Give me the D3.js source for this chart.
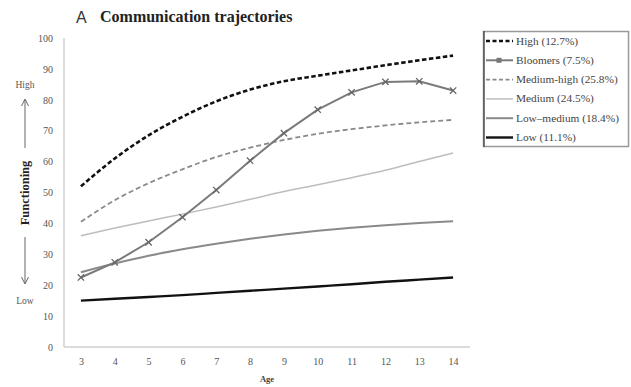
<!DOCTYPE html>
<html><head><meta charset="utf-8">
<script src="https://cdn.jsdelivr.net/npm/d3@7"></script>
<style>body{margin:0;background:#fff}svg{display:block}</style>
</head><body>
<svg id="c" width="631" height="387"></svg>
<script>
const ages = [3,4,5,6,7,8,9,10,11,12,13,14];
const yTicks = [0,10,20,30,40,50,60,70,80,90,100];
const high       = [52,61,68.5,74.5,79.5,83.3,86,87.8,89.5,91.2,92.8,94.3];
const bloomers   = [22.5,27.4,33.9,42,50.8,60.3,69.2,76.8,82.4,85.8,86,83];
const mediumHigh = [40.5,47.5,53,57.5,61.5,64.5,67,69,70.5,71.7,72.7,73.5];
const medium     = [36,38.5,40.8,43,45.3,47.8,50.3,52.5,54.8,57.2,60,62.8];
const lowMedium  = [24.2,27,29.5,31.6,33.4,35,36.4,37.6,38.6,39.4,40.1,40.7];
const low        = [15,15.6,16.2,16.8,17.5,18.2,18.9,19.6,20.3,21.1,21.8,22.5];
const seriesNames = ["High (12.7%)","Bloomers (7.5%)","Medium-high (25.8%)","Medium (24.5%)","Low\u2013medium (18.4%)","Low (11.1%)"];

const styles = [
  {color:"#111", w:2.6, dash:"4.5,2.5", marker:false, curve:d3.curveMonotoneX},
  {color:"#7a7a7a", w:2, dash:null, marker:true, curve:d3.curveLinear},
  {color:"#8a8a8a", w:1.8, dash:"5,3", marker:false, curve:d3.curveMonotoneX},
  {color:"#bdbdbd", w:1.5, dash:null, marker:false, curve:d3.curveMonotoneX},
  {color:"#8a8a8a", w:2, dash:null, marker:false, curve:d3.curveMonotoneX},
  {color:"#111", w:2.4, dash:null, marker:false, curve:d3.curveMonotoneX}
];
const data = [high,bloomers,mediumHigh,medium,lowMedium,low];

const svg = d3.select("#c");
const serif = "'Liberation Serif','Times New Roman',serif";
const x = d3.scaleLinear().domain([2.5,14.5]).range([64,470]);
const y = d3.scaleLinear().domain([0,100]).range([347,38]);

// axes
svg.append("line").attr("x1",64).attr("x2",64).attr("y1",y(100)).attr("y2",y(0)).attr("stroke","#cfcfcf").attr("stroke-width",1.5);
svg.append("line").attr("x1",64).attr("x2",470).attr("y1",y(0)).attr("y2",y(0)).attr("stroke","#cfcfcf").attr("stroke-width",1.5);

const ya = d3.axisLeft(y).tickValues(yTicks).tickSize(0).tickPadding(11);
const yg = svg.append("g").attr("transform","translate(64,0)").call(ya);
yg.select(".domain").remove();
yg.selectAll("text").attr("font-family",serif).attr("font-size",10).attr("fill","#555");

const xa = d3.axisBottom(x).tickValues(ages).tickSize(0).tickPadding(11).tickFormat(d3.format("d"));
const xg = svg.append("g").attr("transform",`translate(0,${y(0)})`).call(xa);
xg.select(".domain").remove();
xg.selectAll("text").attr("font-family",serif).attr("font-size",10).attr("fill","#555");

svg.append("text").attr("x",267).attr("y",382).attr("text-anchor","middle").attr("font-family",serif).attr("font-size",8.5).attr("font-weight","bold").attr("fill","#444").text("Age");

// y label with arrows
svg.append("text").attr("transform","translate(29,193) rotate(-90)").attr("text-anchor","middle").attr("font-family",serif).attr("font-size",12.5).attr("font-weight","bold").attr("fill","#222").text("Functioning");
svg.append("text").attr("x",25).attr("y",88).attr("text-anchor","middle").attr("font-family",serif).attr("font-size",9.5).attr("fill","#555").text("High");
svg.append("text").attr("x",25).attr("y",304).attr("text-anchor","middle").attr("font-family",serif).attr("font-size",9.5).attr("fill","#555").text("Low");
const ag = svg.append("g").attr("stroke","#666").attr("stroke-width",1).attr("fill","none");
ag.append("line").attr("x1",25).attr("x2",25).attr("y1",148).attr("y2",100);
ag.append("path").attr("d","M21.5,106 L25,99 L28.5,106");
ag.append("line").attr("x1",25).attr("x2",25).attr("y1",237).attr("y2",283);
ag.append("path").attr("d","M21.5,277 L25,284 L28.5,277");

// title
svg.append("text").attr("x",76).attr("y",23).attr("font-family","'Liberation Sans',Arial,sans-serif").attr("font-size",16).attr("fill","#333").text("A");
svg.append("text").attr("x",100).attr("y",22).attr("font-family",serif).attr("font-size",16).attr("font-weight","bold").attr("fill","#222").text("Communication trajectories");

// lines
const order = [3,4,5,2,0,1];
order.forEach(k=>{
  const s = styles[k];
  const line = d3.line().x((d,i)=>x(ages[i])).y(d=>y(d)).curve(s.curve);
  const p = svg.append("path").datum(data[k]).attr("d",line).attr("fill","none")
    .attr("stroke",s.color).attr("stroke-width",s.w);
  if(s.dash) p.attr("stroke-dasharray",s.dash);
  if(s.marker){
    svg.append("g").selectAll("path").data(data[k]).join("path")
      .attr("transform",(d,i)=>`translate(${x(ages[i])},${y(d)})`)
      .attr("d",d3.symbol(d3.symbolTimes,28)())
      .attr("fill","none").attr("stroke","#666").attr("stroke-width",1.3);
  }
});

// legend
const lg = svg.append("g");
lg.append("rect").attr("x",483.5).attr("y",31.5).attr("width",145).attr("height",115).attr("fill","#fff").attr("stroke","#999").attr("stroke-width",1.5);
lg.append("line").attr("x1",484).attr("x2",484).attr("y1",31).attr("y2",147).attr("stroke","#555").attr("stroke-width",1.5);
const rowY = d3.scaleLinear().domain([0,5]).range([41,137.5]);
seriesNames.forEach((n,k)=>{
  const s = styles[k];
  const yy = rowY(k);
  const l = lg.append("line").attr("x1",486).attr("x2",513).attr("y1",yy).attr("y2",yy).attr("stroke",s.color).attr("stroke-width",s.w);
  if(s.dash) l.attr("stroke-dasharray","4,2.5");
  if(s.marker){
    lg.append("rect").attr("x",496.5).attr("y",yy-2.5).attr("width",5).attr("height",5).attr("fill","#777");
  }
  lg.append("text").attr("x",516).attr("y",yy+3.5).attr("font-family",serif).attr("font-size",11.3).attr("fill","#444").text(n);
});
</script>
</body></html>
